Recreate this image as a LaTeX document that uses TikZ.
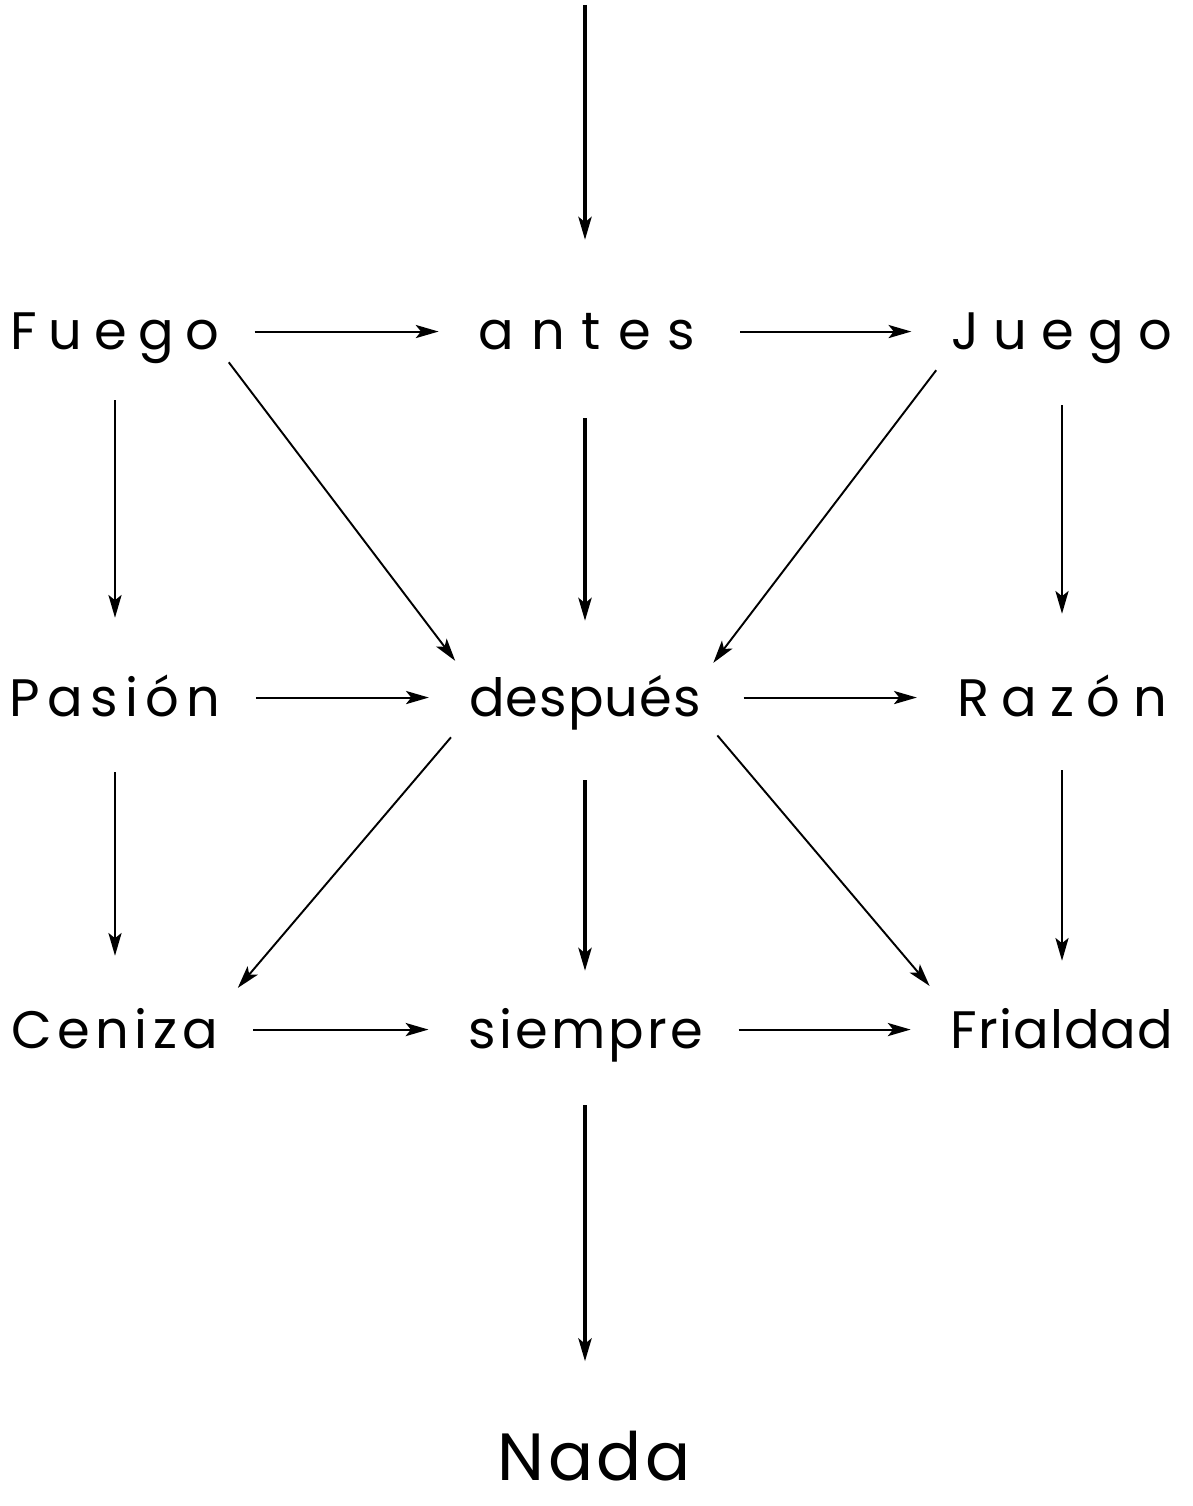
\documentclass[tikz,border=0pt]{standalone}
\usepackage{fontspec}
\setmainfont{Poppins}
\usetikzlibrary{arrows.meta}
\tikzset{
  word/.style={inner sep=0pt, anchor=base, text height=21pt, text depth=0pt,
    font=\fontsize{30}{36}\selectfont\addfontfeature{LetterSpace=#1}},
  arr/.style={-{Stealth[length=13pt,width=7.5pt,inset=3pt]}, line width=1.1pt},
  bigarr/.style={arr, line width=2pt},
  hgap/.style={shorten <=0.7cm, shorten >=0.8cm}
}
\begin{document}
\begin{tikzpicture}[x=0.02cm,y=-0.02cm]
\useasboundingbox (0,0) rectangle (1192,1506);

% draw nodes for the words
\node[word=22] (fuego) at (115,350) {Fuego};
\node[word=32] (antes) at (587,350) {antes};
\node[word=27] (juego) at (1062,350) {Juego};
\node[word=14] (pasion) at (115,716) {Pasión};
\node[word=2] (despues) at (585,716) {después};
\node[word=24] (razon) at (1062,716) {Razón};
\node[word=10] (ceniza) at (115,1048) {Ceniza};
\node[word=6] (siempre) at (586,1048) {siempre};
\node[word=2] (frialdad) at (1062,1048) {Frialdad};
\node[inner sep=0pt, anchor=base, text depth=0pt, font=\fontsize{38}{46}\selectfont\addfontfeature{LetterSpace=5}] (nada) at (594,1480) {Nada};
\coordinate (top) at (585,5);

% draw the middle column
\draw[bigarr, shorten >=1.46cm] (top) -- (top |- antes.north);
\draw[bigarr, shorten <=1.36cm, shorten >=1.16cm] (antes.south -| top) -- (despues.north -| top);
\draw[bigarr, shorten <=1.28cm, shorten >=0.8cm] (despues.south -| top) -- (siempre.north -| top);
\draw[bigarr, shorten <=1.14cm, shorten >=1.38cm] (siempre.south -| top) -- (nada.north -| top);

% draw the rows
\draw[arr, hgap] (fuego) -- (antes);
\draw[arr, shorten <=0.9cm, shorten >=0.8cm] (antes) -- (juego);
\draw[arr, hgap] (pasion) -- (despues);
\draw[arr, shorten <=0.85cm, shorten >=0.8cm] (despues) -- (razon);
\draw[arr, hgap] (ceniza) -- (siempre);
\draw[arr, hgap] (siempre) -- (frialdad);

% draw the outer columns
\draw[arr, shorten <=1cm, shorten >=1.22cm] (fuego.south) -- (pasion.north);
\draw[arr, shorten <=1.12cm, shorten >=1.1cm] (pasion.south) -- (ceniza.north);
\draw[arr, shorten <=1.1cm, shorten >=1.3cm] (juego.south) -- (razon.north);
\draw[arr, shorten <=1.08cm, shorten >=1cm] (razon.south) -- (frialdad.north);

% draw the diagonals
\draw[arr, shorten <=0.3cm, shorten >=0.45cm] (fuego.south east) -- (despues.north west);
\draw[arr, shorten <=0.5cm, shorten >=0.4cm] (juego.south west) -- (despues.north east);
\draw[arr, shorten <=0.55cm, shorten >=0.6cm] (despues.south west) -- (ceniza.north east);
\draw[arr, shorten <=0.5cm, shorten >=0.65cm] (despues.south east) -- (frialdad.north west);
\end{tikzpicture}
\end{document}
